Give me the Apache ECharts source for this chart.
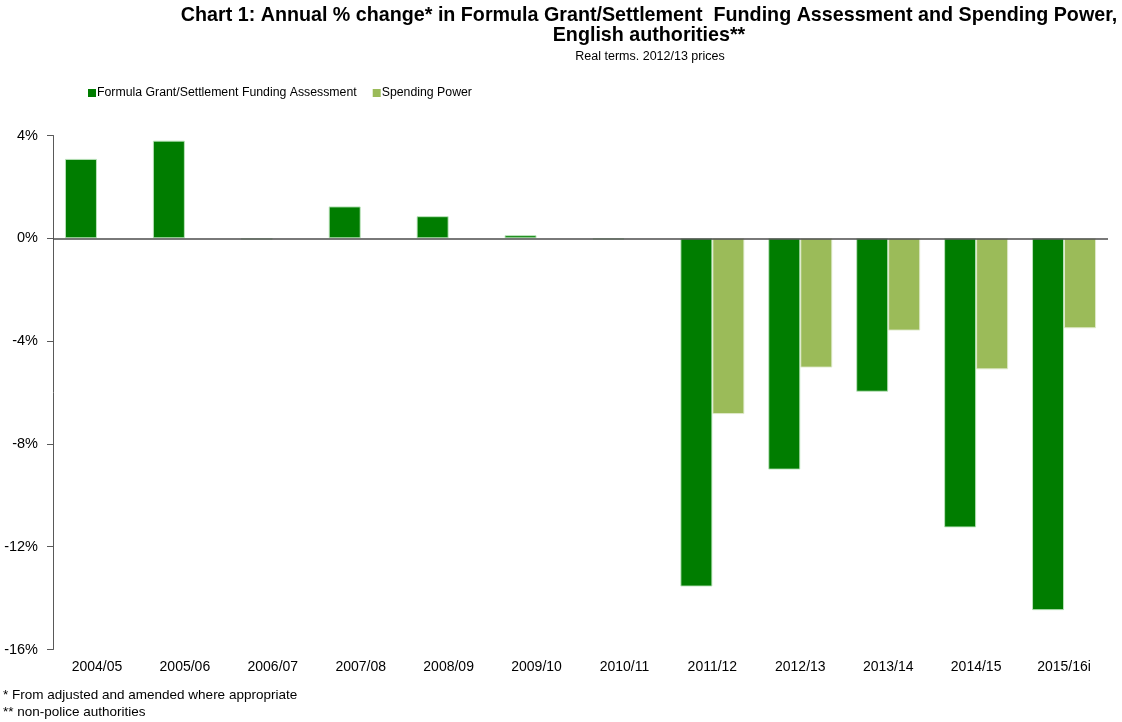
<!DOCTYPE html>
<html>
<head>
<meta charset="utf-8">
<script src="https://cdn.jsdelivr.net/npm/echarts@6/dist/echarts.min.js"></script>
<style>
html,body{margin:0;padding:0;background:#fff;}
#chart{width:1122px;height:722px;}
</style>
</head>
<body>
<div id="chart"></div>
<script>
const categories = ['2004/05','2005/06','2006/07','2007/08','2008/09','2009/10','2010/11','2011/12','2012/13','2013/14','2014/15','2015/16i'];
const formulaGrant = [3.09, 3.8, -0.05, 1.24, 0.86, 0.12, -0.05, -13.55, -9.0, -5.97, -11.25, -14.47];
const spendingPower = [null, null, null, null, null, null, null, -6.84, -5.03, -3.59, -5.1, -3.5];
const yTicks = { min: -16, max: 4, interval: 4 };

const FONT = '"Liberation Sans", Arial, sans-serif';
const chart = echarts.init(document.getElementById('chart'), null, {renderer: 'canvas'});
chart.setOption({
  animation: false,
  backgroundColor: '#fff',
  title: [
    {
      text: 'Chart 1: Annual % change* in Formula Grant/Settlement  Funding Assessment and Spending Power,\nEnglish authorities**',
      left: 649, top: 6, textAlign: 'center', padding: 0,
      textStyle: {fontFamily: FONT, fontWeight: 'bold', fontSize: 19.7, color: '#000', lineHeight: 20}
    },
    {
      text: 'Real terms. 2012/13 prices',
      left: 650, top: 50, textAlign: 'center', padding: 0,
      textStyle: {fontFamily: FONT, fontWeight: 'normal', fontSize: 12.5, color: '#000'}
    },
    {
      text: '* From adjusted and amended where appropriate\n** non-police authorities',
      left: 3, top: 687, padding: 0,
      textStyle: {fontFamily: FONT, fontWeight: 'normal', fontSize: 13.5, color: '#000', lineHeight: 17}
    }
  ],
  legend: {
    left: 88, top: 87, padding: 0,
    icon: 'rect', itemWidth: 8, itemHeight: 8, itemGap: 16,
    itemStyle: {borderWidth: 0},
    textStyle: {fontFamily: FONT, fontSize: 12.3, color: '#000', padding: [0,0,0,-4]},
    data: ['Formula Grant/Settlement Funding Assessment', 'Spending Power']
  },
  grid: {left: 53, right: 14, top: 135.5, bottom: 72.5, containLabel: false},
  xAxis: {
    type: 'category',
    data: categories,
    position: 'bottom',
    axisLine: {show: false, onZero: false},
    axisTick: {show: false},
    axisLabel: {fontFamily: FONT, fontSize: 14, color: '#000', margin: 11, interval: 0}
  },
  yAxis: {
    type: 'value',
    min: yTicks.min, max: yTicks.max, interval: yTicks.interval,
    axisLine: {show: true, lineStyle: {color: '#595959', width: 1}},
    axisTick: {show: true, length: 6, inside: false, lineStyle: {color: '#595959'}},
    splitLine: {show: false},
    axisLabel: {fontFamily: FONT, fontSize: 14.5, color: '#000', margin: 15, formatter: v => v + '%'}
  },
  series: [
    {
      name: 'Formula Grant/Settlement Funding Assessment',
      type: 'bar',
      data: formulaGrant,
      barWidth: 32,
      barGap: '0%',
      itemStyle: {color: '#007d00', borderColor: 'rgba(190,230,190,0.9)', borderWidth: 1},
      markLine: {
        silent: true, symbol: 'none', label: {show: false},
        lineStyle: {color: '#4d4d4d', width: 1.5, type: 'solid'},
        data: [{yAxis: 0}]
      },
      z: 2
    },
    {
      name: 'Spending Power',
      type: 'bar',
      data: spendingPower,
      barWidth: 32,
      barGap: '0%',
      itemStyle: {color: '#9bbb59', borderColor: 'rgba(225,235,205,0.9)', borderWidth: 1},
      z: 2
    }
  ]
});
</script>
</body>
</html>
